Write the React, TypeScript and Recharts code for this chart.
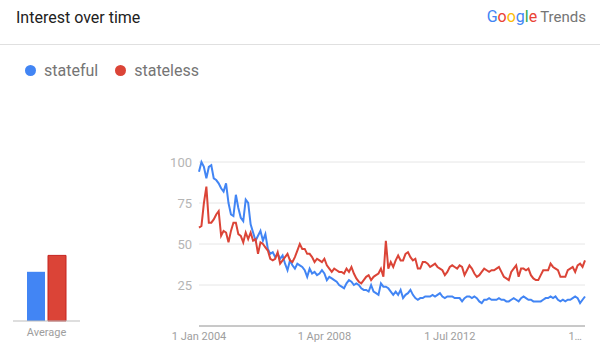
import { Bar, BarChart, CartesianGrid, Line, LineChart, XAxis, YAxis } from "recharts";

const BLUE = "#4285f4";
const RED = "#db4437";

// monthly interest, Jan 2004 onwards
const stateful = [
  94, 100, 97, 90, 97, 98, 90, 89, 87, 84, 82, 87, 75, 68, 67, 80, 72, 66, 64, 77,
  75, 62, 57, 52, 55, 58, 52, 56, 47, 44, 45, 42, 44, 41, 43, 38, 34, 40, 37, 35,
  38, 37, 36, 34, 30, 35, 32, 33, 31, 32, 34, 32, 28, 30, 29, 28, 27, 25, 24, 23,
  26, 28, 27, 25, 26, 25, 23, 22, 22, 21, 25, 21, 20, 19, 26, 24, 24, 23, 21, 19,
  21, 19, 22, 17, 19, 20, 22, 19, 17, 16, 17, 17, 18, 18, 18, 19, 18, 19, 20, 18,
  17, 18, 18, 18, 17, 17, 17, 15, 17, 18, 18, 17, 18, 17, 15, 14, 16, 16, 17, 16,
  16, 16, 17, 16, 16, 15, 15, 16, 17, 16, 15, 17, 18, 17, 16, 16, 15, 15, 15, 15,
  16, 17, 17, 18, 17, 18, 16, 15, 16, 15, 16, 16, 17, 18, 17, 14, 16, 18,
];

const stateless = [
  60, 61, 75, 85, 63, 63, 65, 68, 70, 55, 58, 57, 51, 58, 63, 63, 56, 55, 51, 57,
  53, 57, 52, 53, 44, 51, 50, 48, 46, 41, 40, 41, 45, 38, 40, 42, 44, 40, 39, 42,
  46, 50, 47, 47, 44, 44, 42, 39, 41, 40, 39, 41, 37, 35, 33, 35, 34, 33, 33, 32,
  35, 33, 36, 32, 29, 27, 26, 28, 30, 31, 28, 30, 31, 32, 35, 30, 52, 35, 39, 36,
  40, 43, 40, 40, 44, 45, 42, 40, 41, 35, 35, 39, 39, 38, 36, 37, 38, 36, 35, 34,
  31, 33, 36, 37, 36, 35, 37, 36, 31, 34, 37, 35, 32, 30, 31, 33, 35, 34, 33, 34,
  34, 35, 36, 33, 30, 29, 28, 33, 35, 37, 30, 35, 35, 34, 35, 31, 29, 28, 28, 31,
  34, 34, 34, 38, 36, 35, 34, 30, 30, 30, 34, 35, 36, 33, 37, 38, 36, 40,
];

const averages = [{ name: "Average", stateful: 30, stateless: 40 }];

const tickLabels: Record<string, string> = {
  "2004-01": "1 Jan 2004",
  "2008-04": "1 Apr 2008",
  "2012-07": "1 Jul 2012",
  "2016-10": "1…",
};

const yTicks = [25, 50, 75, 100];

const months = stateful.map((_, i) => {
  const year = 2004 + Math.floor(i / 12);
  const month = (i % 12) + 1;
  return `${year}-${String(month).padStart(2, "0")}`;
});

const data = months.map((month, i) => ({
  month,
  stateful: stateful[i],
  stateless: stateless[i],
}));

const googleLetters = [
  { ch: "G", color: "#4285f4" },
  { ch: "o", color: "#ea4335" },
  { ch: "o", color: "#fbbc05" },
  { ch: "g", color: "#4285f4" },
  { ch: "l", color: "#34a853" },
  { ch: "e", color: "#ea4335" },
];

function LegendItem({ color, label }: { color: string; label: string }) {
  return (
    <span style={{ display: "inline-flex", alignItems: "center", marginRight: 17 }}>
      <span
        style={{
          width: 11,
          height: 11,
          borderRadius: 6,
          background: color,
          display: "inline-block",
          marginRight: 8,
        }}
      />
      <span style={{ fontSize: 16, color: "#757575" }}>{label}</span>
    </span>
  );
}

export default function App() {
  return (
    <div
      style={{
        position: "absolute",
        left: 0,
        top: 0,
        width: 600,
        height: 356,
        background: "#fff",
        fontFamily: "Roboto, sans-serif",
        overflow: "hidden",
      }}
    >
      <div
        style={{
          position: "absolute",
          left: 16,
          top: 8,
          fontSize: 16,
          color: "#212121",
        }}
      >
        Interest over time
      </div>
      <div style={{ position: "absolute", right: 14, top: 7, fontSize: 16 }}>
        {googleLetters.map((l, i) => (
          <span key={i} style={{ color: l.color }}>
            {l.ch}
          </span>
        ))}
        <span style={{ color: "#757575", fontSize: 15, marginLeft: 3 }}>Trends</span>
      </div>
      <div
        style={{
          position: "absolute",
          left: 0,
          top: 44,
          width: 600,
          height: 1,
          background: "#e0e0e0",
        }}
      />
      <div style={{ position: "absolute", left: 25, top: 61, display: "flex" }}>
        <LegendItem color={BLUE} label="stateful" />
        <LegendItem color={RED} label="stateless" />
      </div>

      <div style={{ position: "absolute", left: 0, top: 0 }}>
        <BarChart
          width={95}
          height={356}
          data={averages}
          margin={{ top: 157, right: 15, bottom: 15, left: 13 }}
          barSize={18}
          barGap={3}
        >
          <XAxis
            dataKey="name"
            height={20}
            tickLine={false}
            tickSize={0}
            tickMargin={7}
            stroke="#bdbdbd"
            tick={{ fontSize: 11, fill: "#9e9e9e" }}
          />
          <YAxis hide domain={[0, 100]} />
          <Bar dataKey="stateful" fill={BLUE} isAnimationActive={false} />
          <Bar dataKey="stateless" fill={RED} stroke="#c5221f" isAnimationActive={false} />
        </BarChart>
      </div>

      <div style={{ position: "absolute", left: 0, top: 0 }}>
        <LineChart
          width={600}
          height={356}
          data={data}
          margin={{ top: 162, right: 15, bottom: 6, left: 0 }}
        >
          <CartesianGrid vertical={false} stroke="#e6e6e6" />
          <XAxis
            dataKey="month"
            height={24}
            ticks={Object.keys(tickLabels)}
            interval={0}
            tickFormatter={(v) => tickLabels[v] ?? ""}
            tickLine={false}
            tickSize={0}
            tickMargin={6}
            stroke="#9e9e9e"
            tick={{ fontSize: 11, fill: "#9e9e9e" }}
          />
          <YAxis
            width={199}
            domain={[0, 100]}
            ticks={yTicks}
            axisLine={false}
            tickLine={false}
            tickSize={0}
            tickMargin={7}
            tick={{ fontSize: 13, fill: "#b5b5b5" }}
          />
          <Line
            type="linear"
            dataKey="stateful"
            stroke={BLUE}
            strokeWidth={2}
            dot={false}
            isAnimationActive={false}
          />
          <Line
            type="linear"
            dataKey="stateless"
            stroke={RED}
            strokeWidth={2}
            dot={false}
            isAnimationActive={false}
          />
        </LineChart>
      </div>
    </div>
  );
}
